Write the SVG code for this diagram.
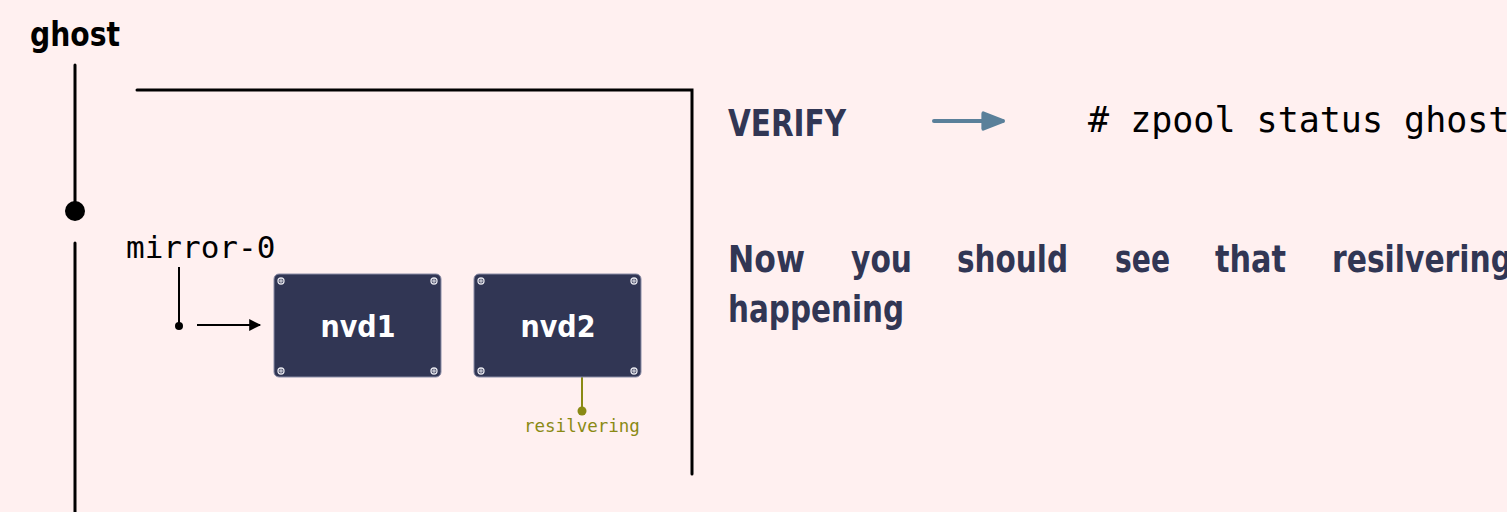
<svg xmlns="http://www.w3.org/2000/svg" width="1507" height="512" viewBox="0 0 1507 512">
<defs>
<style>
.bold{font-family:"Liberation Sans Narrow","DejaVu Sans Condensed","Liberation Sans",sans-serif;font-weight:bold;}
.mono{font-family:"DejaVu Sans Mono","Liberation Mono",monospace;}
.line{stroke:#000;stroke-width:3;fill:none;stroke-linecap:round;}
.box{fill:#313654;stroke:#8a8ca6;stroke-width:1;}
.screw{fill:#313654;stroke:#e8e8ee;stroke-width:1.3;}
.scx{stroke:#e8e8ee;stroke-width:1;}
.dark{fill:#313654;}
</style>
<marker id="ah" viewBox="0 0 10 10" refX="9" refY="5" markerWidth="13" markerHeight="12" markerUnits="userSpaceOnUse" orient="auto"><path d="M0,0 L10,5 L0,10 z" fill="#000"/></marker>
<marker id="ahb" viewBox="0 0 10 10" refX="9" refY="5" markerWidth="6" markerHeight="6" orient="auto"><path d="M1,1 L9,4.2 Q10,5 9,5.8 L1,9 Q0,9.3 0,8 L0,2 Q0,0.7 1,1 z" fill="#5a809a"/></marker>
<g id="screw"><circle r="3" class="screw"/><path d="M-2,0 H2 M0,-2 V2" class="scx"/></g>
</defs>
<rect width="1507" height="512" fill="#fff0f0"/>
<g id="ghost">
<text x="30" y="46" class="bold" font-size="34" fill="#000" textLength="90" lengthAdjust="spacingAndGlyphs">ghost</text>
</g>
<g id="connectors">
<line x1="75" y1="65" x2="75" y2="205" class="line"/>
<circle cx="75" cy="211" r="10" fill="#000"/>
<line x1="75" y1="243" x2="75" y2="512" class="line"/>
<polyline points="137,90 692,90 692,474" class="line" stroke-linecap="butt"/>
<line x1="179" y1="267" x2="179" y2="326" stroke="#000" stroke-width="2"/>
<circle cx="179" cy="326" r="4" fill="#000"/>
<line x1="197" y1="325" x2="260" y2="325" stroke="#000" stroke-width="2" marker-end="url(#ah)"/>
<line x1="582" y1="377" x2="582" y2="410" stroke="#8a8a14" stroke-width="2"/>
<circle cx="582" cy="411" r="4.5" fill="#8a8a14"/>
<line x1="934" y1="121" x2="1003" y2="121" stroke="#5a809a" stroke-width="4" stroke-linecap="round" marker-end="url(#ahb)"/>
</g>
<g id="mirror-0">
<text x="126" y="258" class="mono" font-size="31" fill="#000">mirror-0</text>
</g>
<g id="nvd1">
<rect x="274" y="274" width="167" height="103" rx="5" class="box"/>
<use href="#screw" x="281" y="281"/><use href="#screw" x="434" y="281"/><use href="#screw" x="281" y="371"/><use href="#screw" x="434" y="371"/>
<text x="358" y="337" class="bold" font-size="30" fill="#fff" text-anchor="middle">nvd1</text>
</g>
<g id="nvd2">
<rect x="474" y="274" width="167" height="103" rx="5" class="box"/>
<use href="#screw" x="481" y="281"/><use href="#screw" x="634" y="281"/><use href="#screw" x="481" y="371"/><use href="#screw" x="634" y="371"/>
<text x="558" y="337" class="bold" font-size="30" fill="#fff" text-anchor="middle">nvd2</text>
</g>
<g id="resilvering">
<text x="524" y="432" class="mono" font-size="17.5" fill="#8a8a14">resilvering</text>
</g>
<g id="verify">
<text x="728" y="136" class="bold dark" font-size="38" textLength="118" lengthAdjust="spacingAndGlyphs">VERIFY</text>
</g>
<g id="command">
<text x="1088" y="132" class="mono" font-size="35" fill="#000">
# zpool status ghost</text>
</g>
<g id="note" class="bold dark" font-size="38">
<text x="728" y="272" textLength="77" lengthAdjust="spacingAndGlyphs">Now</text>
<text x="851" y="272" textLength="61" lengthAdjust="spacingAndGlyphs">you</text>
<text x="957" y="272" textLength="111" lengthAdjust="spacingAndGlyphs">should</text>
<text x="1115" y="272" textLength="55" lengthAdjust="spacingAndGlyphs">see</text>
<text x="1215" y="272" textLength="71" lengthAdjust="spacingAndGlyphs">that</text>
<text x="1332" y="272" textLength="180" lengthAdjust="spacingAndGlyphs">resilvering</text>
<text x="728" y="322" textLength="176" lengthAdjust="spacingAndGlyphs">happening</text>
</g>
</svg>
